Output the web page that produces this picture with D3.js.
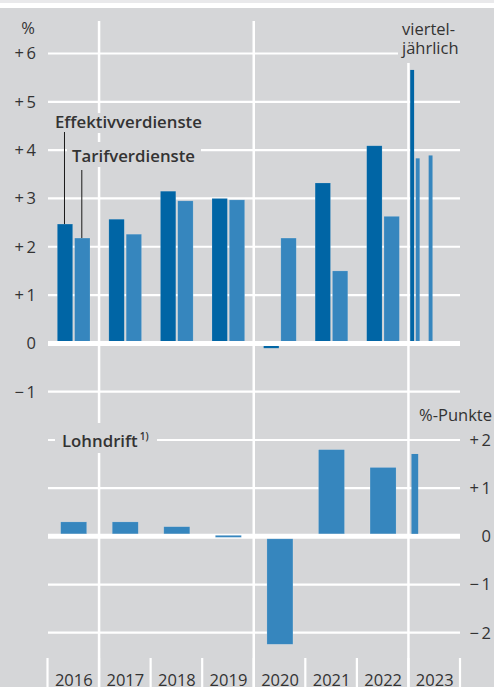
<!DOCTYPE html>
<html>
<head>
<meta charset="utf-8">
<script src="https://cdnjs.cloudflare.com/ajax/libs/d3/7.8.5/d3.min.js"></script>
<style>
  body { margin: 0; background: #d5d6d8; }
  svg { display: block; font-family: "Open Sans", "Noto Sans", sans-serif; }
</style>
</head>
<body>
<div id="svg_container"></div>
<script>
var width = 494,
    height = 687;

// yearly values, % change on previous year
var years = ["2016", "2017", "2018", "2019", "2020", "2021", "2022", "2023"];
var annualYears = ["2016", "2017", "2018", "2019", "2020", "2021", "2022"];
var effektiv = [2.47, 2.57, 3.15, 3.0, -0.1, 3.32, 4.09];
var tarif = [2.18, 2.26, 2.95, 2.97, 2.18, 1.5, 2.63];

// 2023 quarterly
var quarters = ["Q1", "Q2", "Q3", "Q4"];
var effektivQ = [5.66, null, null, null];
var tarifQ = [3.83, 3.89, null, null];

// wage drift, percentage points
var lohndrift = [0.3, 0.3, 0.2, -0.04, -2.24, 1.8, 1.43];
var lohndriftQ = [1.71, null, null, null];

var upperTicks = [-1, 0, 1, 2, 3, 4, 5, 6];
var lowerTicks = [-2, -1, 0, 1, 2];

var bg = '#d5d6d8',
    dark = '#0065a5',
    light = '#3686be',
    textColor = '#333333';

function fmt(v) {
  if (v > 0) return '+\u2009' + v;
  if (v < 0) return '\u2212\u2009' + Math.abs(v);
  return '0';
}

var svg = d3.select('#svg_container').append('svg')
    .attr('width', width)
    .attr('height', height);

svg.append('rect').attr('width', width).attr('height', height).attr('fill', bg);
svg.append('rect').attr('width', width).attr('height', 3).attr('fill', '#e9e9eb');
svg.append('rect').attr('y', 3).attr('width', width).attr('height', 5).attr('fill', '#ffffff');

var x = d3.scaleBand().domain(years).range([47.5, 460]);
var bw = x.bandwidth();
var x1 = d3.scaleBand().domain(['eff', 'tarif']).range([9.8, 42.5]).paddingInner(0.11);
var xq = d3.scaleBand().domain(quarters).range([x('2023'), x('2023') + bw]);
var xq1 = d3.scaleBand().domain(['eff', 'tarif']).range([1.8, 11.2]).paddingInner(0.3);

var y = d3.scaleLinear().domain([-1, 6]).range([391.7, 53.5]);
var yL = d3.scaleLinear().domain([-2, 2]).range([632.7, 440]);

// gridlines
svg.append('g').selectAll('line').data(upperTicks.filter(function (d) { return d !== 0; }))
  .enter().append('line')
    .attr('x1', 48).attr('x2', 460)
    .attr('y1', function (d) { return y(d); })
    .attr('y2', function (d) { return y(d); })
    .attr('stroke', '#fff').attr('stroke-width', 2.2);

svg.append('g').selectAll('line').data(lowerTicks.filter(function (d) { return d !== 0; }))
  .enter().append('line')
    .attr('x1', 48).attr('x2', 460)
    .attr('y1', function (d) { return yL(d); })
    .attr('y2', function (d) { return yL(d); })
    .attr('stroke', '#fff').attr('stroke-width', 2.2);

// long separators and bottom ticks
var seps = ['2017', '2020', '2023'];
svg.append('g').selectAll('line').data(seps)
  .enter().append('line')
    .attr('x1', function (d) { return x(d); })
    .attr('x2', function (d) { return x(d); })
    .attr('y1', function (d) { return d === '2023' ? 63 : 21; })
    .attr('y2', height)
    .attr('stroke', '#fff').attr('stroke-width', 2.5);

svg.append('g').selectAll('line').data(years.concat(['end']))
  .enter().append('line')
    .attr('x1', function (d) { return d === 'end' ? 460 : x(d); })
    .attr('x2', function (d) { return d === 'end' ? 460 : x(d); })
    .attr('y1', 658).attr('y2', height)
    .attr('stroke', '#fff').attr('stroke-width', 2.2);

// upper bars
var barStroke = 'rgba(255,255,255,0.25)';
function barY(s, v) { return v >= 0 ? s(v) : s(0); }
function barH(s, v) { return Math.abs(s(v) - s(0)); }

var upper = svg.append('g');
upper.selectAll('.eff').data(annualYears)
  .enter().append('rect')
    .attr('x', function (d) { return x(d) + x1('eff'); })
    .attr('width', x1.bandwidth())
    .attr('y', function (d, i) { return barY(y, effektiv[i]); })
    .attr('height', function (d, i) { return barH(y, effektiv[i]); })
    .attr('fill', dark).attr('stroke', barStroke).attr('stroke-width', 0.6);

upper.selectAll('.tarif').data(annualYears)
  .enter().append('rect')
    .attr('x', function (d) { return x(d) + x1('tarif'); })
    .attr('width', x1.bandwidth())
    .attr('y', function (d, i) { return barY(y, tarif[i]); })
    .attr('height', function (d, i) { return barH(y, tarif[i]); })
    .attr('fill', light).attr('stroke', barStroke).attr('stroke-width', 0.6);

upper.selectAll('.effq').data(quarters.filter(function (q, i) { return effektivQ[i] != null; }))
  .enter().append('rect')
    .attr('x', function (d) { return xq(d) + xq1('eff'); })
    .attr('width', xq1.bandwidth())
    .attr('y', function (d) { return barY(y, effektivQ[quarters.indexOf(d)]); })
    .attr('height', function (d) { return barH(y, effektivQ[quarters.indexOf(d)]); })
    .attr('fill', dark);

upper.selectAll('.tarifq').data(quarters.filter(function (q, i) { return tarifQ[i] != null; }))
  .enter().append('rect')
    .attr('x', function (d) { return xq(d) + xq1('tarif'); })
    .attr('width', xq1.bandwidth())
    .attr('y', function (d) { return barY(y, tarifQ[quarters.indexOf(d)]); })
    .attr('height', function (d) { return barH(y, tarifQ[quarters.indexOf(d)]); })
    .attr('fill', light);

// zero lines
svg.append('line').attr('x1', 48).attr('x2', 460).attr('y1', y(0)).attr('y2', y(0))
    .attr('stroke', '#fff').attr('stroke-width', 5);
svg.append('line').attr('x1', 48).attr('x2', 460).attr('y1', yL(0)).attr('y2', yL(0))
    .attr('stroke', '#fff').attr('stroke-width', 5);

// lower bars (tiny values sit on the zero line)
function driftY(v) {
  if (Math.abs(yL(v) - yL(0)) < 5) return yL(0) - 1;
  return v >= 0 ? yL(v) : yL(0) + 2.5;
}
function driftH(v) {
  if (Math.abs(yL(v) - yL(0)) < 5) return 2;
  return Math.abs(yL(v) - yL(0)) - 2.5;
}
svg.append('g').selectAll('rect').data(annualYears)
  .enter().append('rect')
    .attr('x', function (d) { return x(d) + bw / 2 - 12.6; })
    .attr('width', 26)
    .attr('y', function (d, i) { return driftY(lohndrift[i]); })
    .attr('height', function (d, i) { return driftH(lohndrift[i]); })
    .attr('fill', light).attr('stroke', barStroke).attr('stroke-width', 0.6);

svg.append('g').selectAll('rect').data(quarters.filter(function (q, i) { return lohndriftQ[i] != null; }))
  .enter().append('rect')
    .attr('x', function (d) { return xq(d) + xq.bandwidth() / 2 - 3.4; })
    .attr('width', 6.7)
    .attr('y', function (d) { return driftY(lohndriftQ[quarters.indexOf(d)]); })
    .attr('height', function (d) { return driftH(lohndriftQ[quarters.indexOf(d)]); })
    .attr('fill', light);

// label backgrounds
var boxes = [[52, 113, 153, 20], [67, 142, 134, 25], [398, 16, 62, 46], [55, 423, 102, 30]];
svg.append('g').selectAll('rect').data(boxes)
  .enter().append('rect')
    .attr('x', function (d) { return d[0]; })
    .attr('y', function (d) { return d[1]; })
    .attr('width', function (d) { return d[2]; })
    .attr('height', function (d) { return d[3]; })
    .attr('fill', bg);

// leader lines
var lead = svg.append('g').attr('stroke', '#1a1a1a').attr('stroke-width', 1);
lead.append('line')
    .attr('x1', x('2016') + x1('eff') + x1.bandwidth() / 2 - 0.5)
    .attr('x2', x('2016') + x1('eff') + x1.bandwidth() / 2 - 0.5)
    .attr('y1', 132).attr('y2', y(effektiv[0]));
lead.append('line')
    .attr('x1', x('2016') + x1('tarif') + x1.bandwidth() / 2 - 0.5)
    .attr('x2', x('2016') + x1('tarif') + x1.bandwidth() / 2 - 0.5)
    .attr('y1', 170).attr('y2', y(tarif[0]));

// axis labels
var txt = svg.append('g').attr('fill', textColor).style('font-size', '16.5px');

txt.selectAll('.yl').data(upperTicks)
  .enter().append('text')
    .attr('x', 36).attr('y', function (d) { return y(d); })
    .attr('dy', '0.36em').attr('text-anchor', 'end')
    .text(fmt);

txt.selectAll('.yr').data(lowerTicks)
  .enter().append('text')
    .attr('x', 491).attr('y', function (d) { return yL(d); })
    .attr('dy', '0.36em').attr('text-anchor', 'end')
    .text(fmt);

txt.selectAll('.yr2').data(years)
  .enter().append('text')
    .attr('x', function (d) { return x(d) + bw / 2 + 0.5; })
    .attr('y', 686).attr('text-anchor', 'middle')
    .text(function (d) { return d; });

txt.append('text').attr('x', 35).attr('y', 34).attr('text-anchor', 'end').text('%');
txt.append('text').attr('x', 402).attr('y', 35).text('viertel-');
txt.append('text').attr('x', 402).attr('y', 54).text('jährlich');
txt.append('text').attr('x', 492).attr('y', 421).attr('text-anchor', 'end').text('%-Punkte');

txt.append('text').attr('x', 55).attr('y', 128).style('font-weight', 600).style('font-size', '16.8px').text('Effektivverdienste');
txt.append('text').attr('x', 72).attr('y', 162).style('font-weight', 600).style('font-size', '16.8px').text('Tarifverdienste');
var ld = txt.append('text').attr('x', 62).attr('y', 447).style('font-weight', 600).style('font-size', '16.8px');
ld.append('tspan').text('Lohndrift');
ld.append('tspan').attr('dx', 2).attr('dy', -7).style('font-size', '10px').text('1)');
</script>
</body>
</html>
